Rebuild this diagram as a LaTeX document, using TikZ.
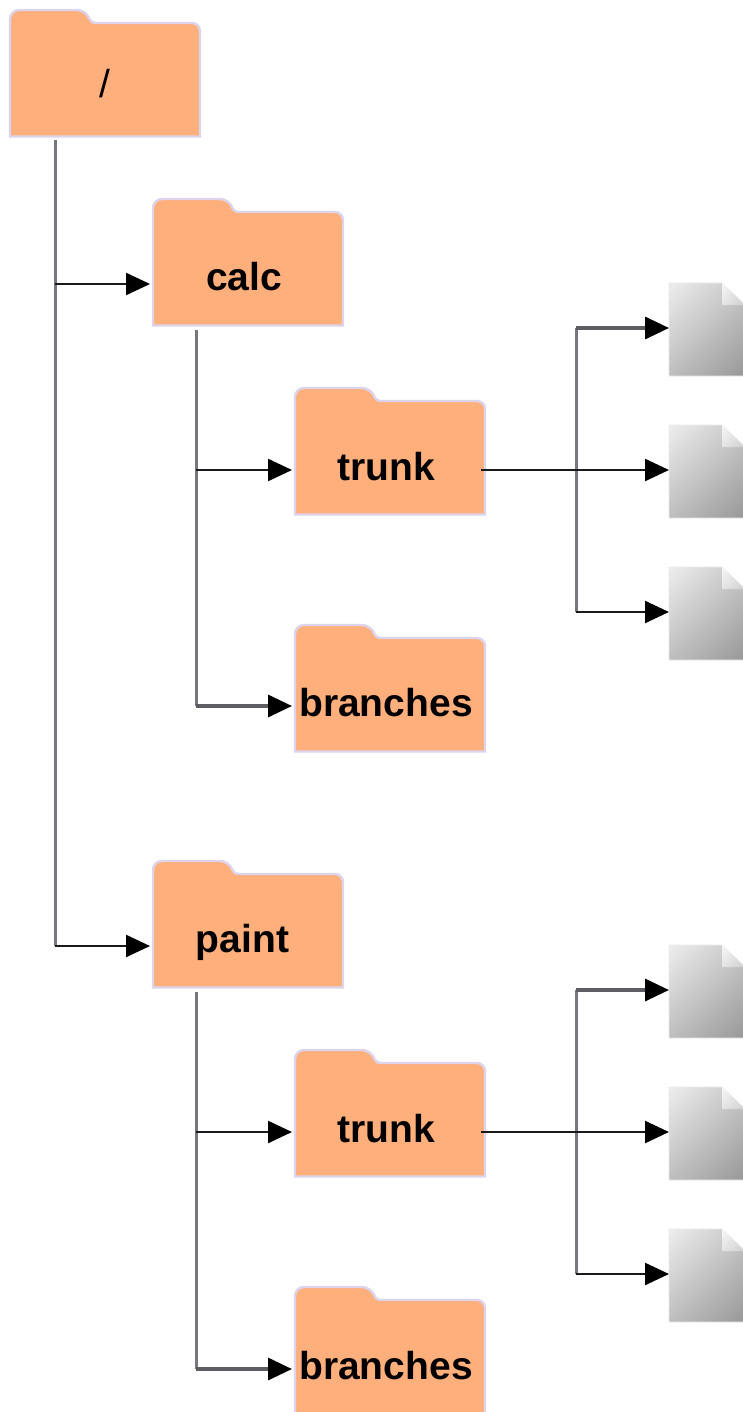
\documentclass[tikz,border=0pt]{standalone}
\usepackage{fontspec}
\setmainfont{Liberation Sans}
\usetikzlibrary{arrows.meta}
\definecolor{folderfill}{HTML}{FFAF7B}
\definecolor{folderedge}{HTML}{DDD3EA}
\definecolor{vline}{HTML}{77777F}
\definecolor{hline}{HTML}{1A1A1A}
\definecolor{hgrey}{HTML}{5E5E62}
\pgfdeclareverticalshading{filegrad}{100bp}{color(0bp)=(black!48); color(100bp)=(white)}
\pgfdeclareverticalshading{foldgrad}{100bp}{color(0bp)=(black!22); color(100bp)=(white)}
\tikzset{
  x=1pt,y=-1pt,
  foldershape/.style={fill=folderfill,draw=folderedge,line width=2.4pt},
  foldernode/.style={minimum width=190pt,minimum height=90pt,inner sep=0pt,outer sep=0pt,font=\bfseries\fontsize{39}{39}\selectfont,text=black},
  filenode/.style={minimum width=76pt,minimum height=92pt,inner sep=0pt,outer sep=0pt},
  trunkline/.style={draw=vline,line width=3pt},
  arrowline/.style={draw=hline,line width=2.4pt,-{Triangle[length=24pt,width=22pt,color=black]},shorten >=3pt},
  greyarrow/.style={draw=hgrey,line width=3.4pt,-{Triangle[length=24pt,width=22pt,color=black]},shorten >=3pt},
}
% name, left, top, arrow y, baseline offset, text
\newcommand{\folderat}[6]{%
  \path[foldershape] (#2,#3+126.5) [sharp corners] -- (#2,#3+20)
    [rounded corners=9pt] -- (#2,#3) -- (#2+76,#3) [rounded corners=4pt] -- (#2+81,#3+13)
    [rounded corners=8pt] -- (#2+190,#3+13) [sharp corners] -- (#2+190,#3+126.5) -- cycle;
  \node[foldernode] (#1) at (#2+95,#4) {\raisebox{-#5pt}[0pt][0pt]{\makebox[0pt]{\hspace*{-8pt}#6}}};
}
% name, arrow y
\newcommand{\fileat}[2]{%
  \shade[shading=filegrad,shading angle=45,draw=black!8,line width=0.6pt]
    (669,#2-45) -- (722,#2-45) -- (747,#2-21) -- (747,#2+48) -- (669,#2+48) -- cycle;
  \shade[shading=foldgrad,shading angle=45]
    (722,#2-45) -- (722,#2-23) -- (745,#2-23) -- cycle;
  \node[filenode] (#1) at (707,#2) {};
}
\begin{document}
\begin{tikzpicture}
\clip (0,0) rectangle (743,1412);
\fill[white] (0,0) rectangle (743,1412);

\folderat{root}{10}{10}{92}{6}{\mdseries\hspace*{8pt}/}
\folderat{calc}{153}{199}{284}{6}{calc}
\folderat{ctrunk}{295}{388}{470}{10}{trunk}
\folderat{cbranches}{295}{625}{706}{10}{branches}
\folderat{paint}{153}{861}{946}{6}{\hspace*{-3pt}paint}
\folderat{ptrunk}{295}{1050}{1132}{10}{trunk}
\folderat{pbranches}{295}{1287}{1369}{10}{branches}

\fileat{fa}{328}
\fileat{fb}{470}
\fileat{fc}{612}
\fileat{fd}{990}
\fileat{fe}{1132}
\fileat{ff}{1274}

\coordinate (rootout) at (55,140);
\coordinate (calcout) at (196,330);
\coordinate (paintout) at (196,992);
\coordinate (cjoin) at (576,470);
\coordinate (pjoin) at (576,1132);

% root
\draw[trunkline] (rootout) -- (rootout |- paint.west);
\draw[arrowline] (rootout |- calc.west) -- (calc.west);
\draw[arrowline] (rootout |- paint.west) -- (paint.west);
% calc
\draw[trunkline] (calcout) -- (calcout |- cbranches.west);
\draw[arrowline,shorten >=3pt] (calcout |- ctrunk.west) -- (ctrunk.west);
\draw[greyarrow,shorten >=3pt] (calcout |- cbranches.west) -- (cbranches.west);
% paint
\draw[trunkline] (paintout) -- (paintout |- pbranches.west);
\draw[arrowline,shorten >=3pt] (paintout |- ptrunk.west) -- (ptrunk.west);
\draw[greyarrow,shorten >=3pt] (paintout |- pbranches.west) -- (pbranches.west);
% calc trunk
\draw[trunkline] (cjoin |- fa.west) -- (cjoin |- fc.west);
\draw[arrowline,shorten <=-4pt,shorten >=0pt] (ctrunk.east) -- (fb.west);
\draw[greyarrow,shorten >=0pt] (cjoin |- fa.west) -- (fa.west);
\draw[arrowline,shorten >=0pt] (cjoin |- fc.west) -- (fc.west);
% paint trunk
\draw[trunkline] (pjoin |- fd.west) -- (pjoin |- ff.west);
\draw[arrowline,shorten <=-4pt,shorten >=0pt] (ptrunk.east) -- (fe.west);
\draw[greyarrow,shorten >=0pt] (pjoin |- fd.west) -- (fd.west);
\draw[arrowline,shorten >=0pt] (pjoin |- ff.west) -- (ff.west);
\end{tikzpicture}
\end{document}
